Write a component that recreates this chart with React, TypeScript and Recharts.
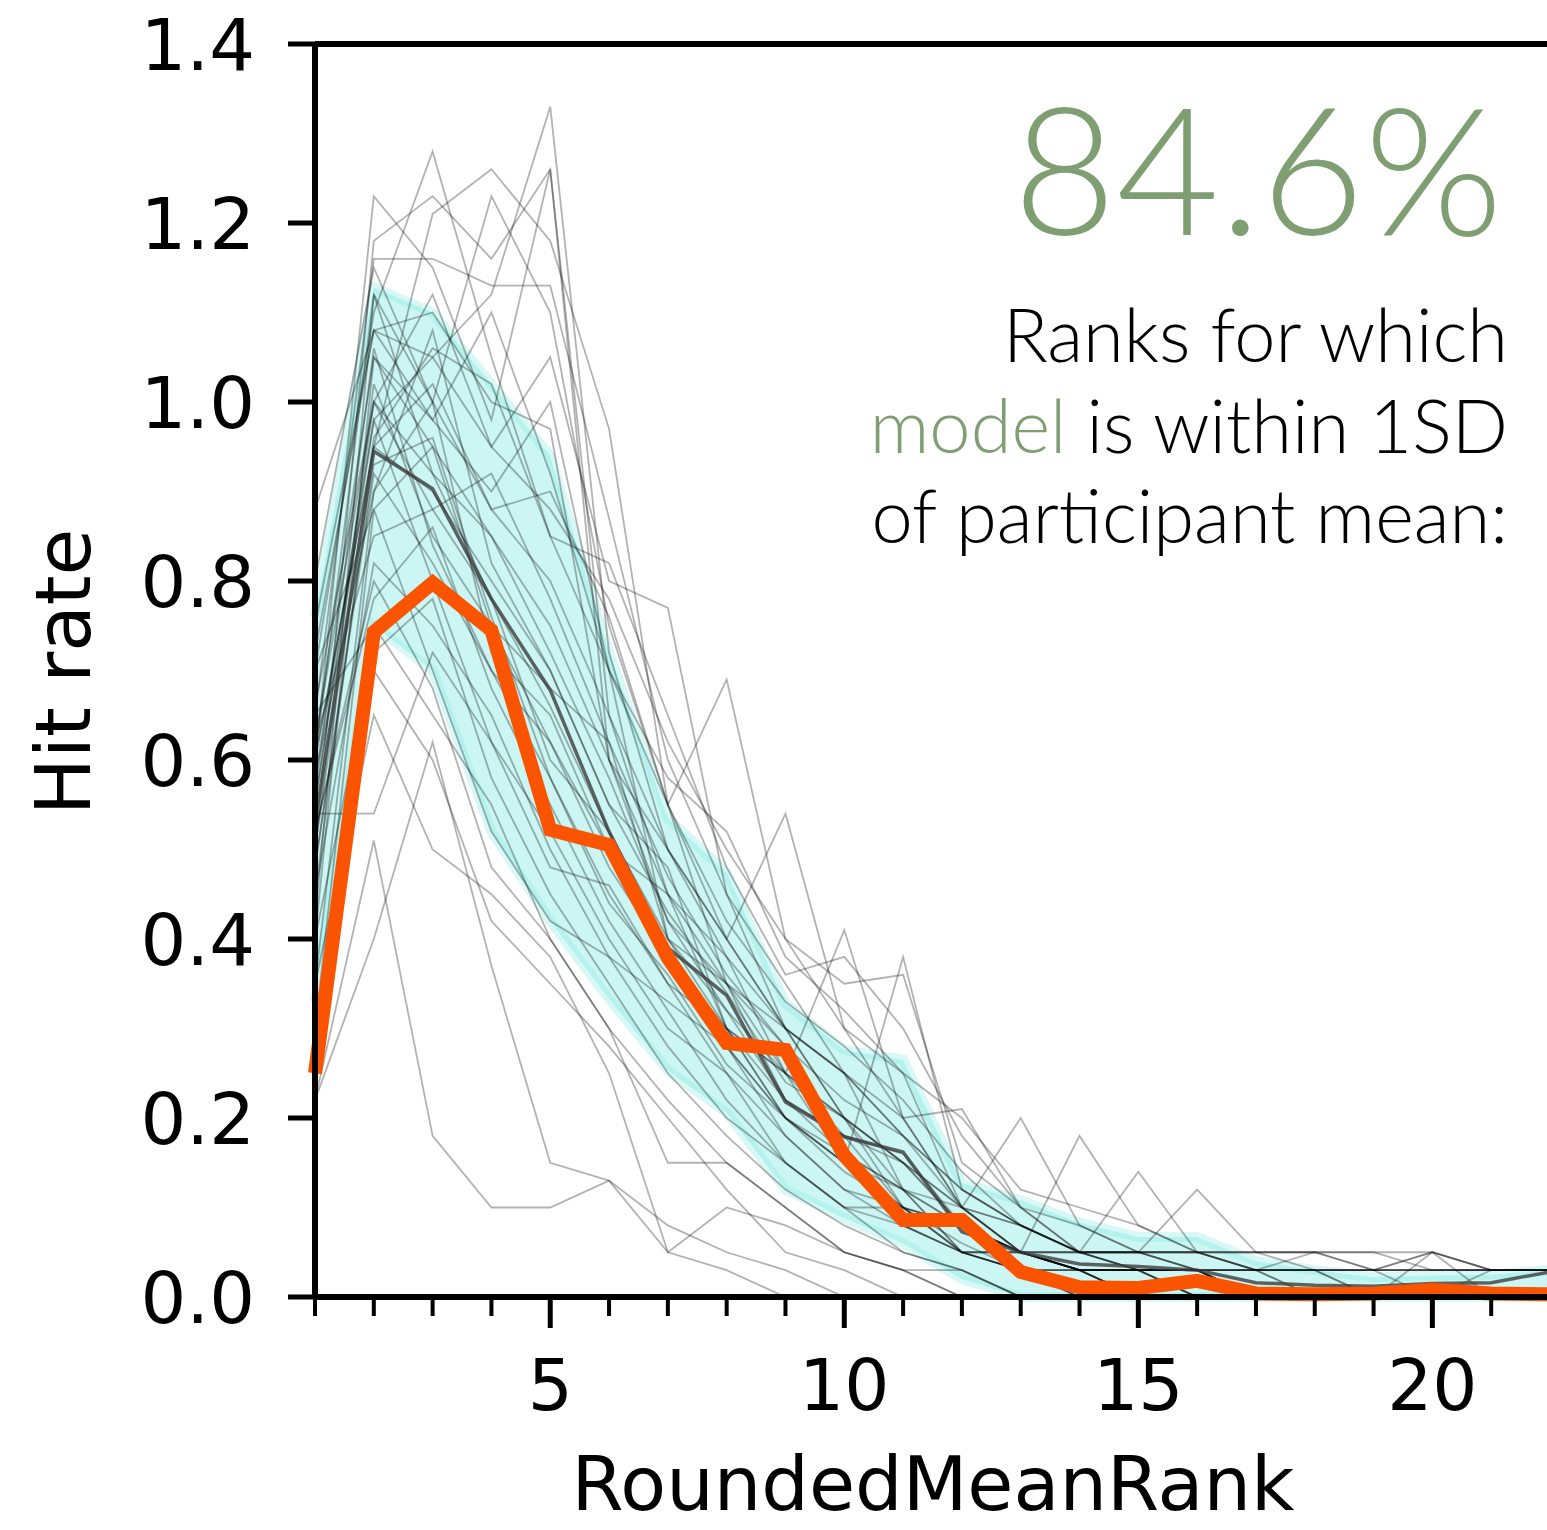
import { ComposedChart, Line, Area, XAxis, YAxis, ReferenceLine } from 'recharts'

// x categories (rounded mean rank)
const ranks = [1, 2, 3, 4, 5, 6, 7, 8, 9, 10, 11, 12, 13, 14, 15, 16, 17, 18, 19, 20, 21, 22]
const yTicks = [0, 0.2, 0.4, 0.6, 0.8, 1.0, 1.2, 1.4]

// model hit rate (orange)
const modelRate = [0.25, 0.743, 0.798, 0.745, 0.522, 0.505, 0.379, 0.284, 0.276, 0.158, 0.086, 0.086, 0.028, 0.011, 0.01, 0.018, 0.004, 0.003, 0.004, 0.008, 0.004, 0.003]

// participant mean (dark line) and +/- 1SD band
const meanRate = [0.53, 0.945, 0.903, 0.78, 0.678, 0.52, 0.39, 0.337, 0.218, 0.179, 0.162, 0.073, 0.05, 0.037, 0.034, 0.03, 0.016, 0.013, 0.012, 0.015, 0.016, 0.028]
const bandHigh = [0.76, 1.128, 1.1, 1.02, 0.94, 0.72, 0.535, 0.474, 0.328, 0.276, 0.265, 0.127, 0.108, 0.083, 0.067, 0.067, 0.04, 0.03, 0.022, 0.024, 0.025, 0.03]
const bandLow = [0.33, 0.75, 0.7, 0.52, 0.42, 0.333, 0.253, 0.206, 0.12, 0.088, 0.06, 0.02, 0, 0, 0, 0, 0, 0, 0, 0, 0, 0]

// individual participants (thin gray)
const participants = [
  [0.55, 0.98, 1.05, 1.12, 1.33, 0.72, 0.5, 0.4, 0.3, 0.2, 0.15, 0.08, 0.05, 0.03, 0.03, 0, 0, 0, 0, 0, 0, 0],
  [0.6, 1.23, 1.15, 0.98, 1.26, 0.65, 0.45, 0.35, 0.22, 0.18, 0.1, 0.05, 0.03, 0.03, 0, 0, 0, 0, 0, 0, 0, 0],
  [0.7, 1.1, 1.28, 1.05, 0.85, 0.7, 0.4, 0.3, 0.25, 0.15, 0.1, 0.08, 0.05, 0.03, 0.03, 0.03, 0, 0, 0, 0, 0, 0],
  [0.5, 1.18, 1.23, 1.16, 1.26, 0.6, 0.42, 0.35, 0.25, 0.2, 0.12, 0.05, 0.03, 0, 0, 0, 0, 0, 0, 0, 0, 0],
  [0.45, 0.95, 1.21, 1.26, 1.18, 0.97, 0.55, 0.4, 0.3, 0.2, 0.1, 0.08, 0.05, 0.03, 0.03, 0, 0, 0, 0, 0, 0, 0],
  [0.65, 1.16, 1.16, 1.13, 1.13, 0.87, 0.6, 0.45, 0.3, 0.25, 0.18, 0.1, 0.05, 0.05, 0.03, 0.03, 0, 0, 0, 0, 0, 0],
  [0.8, 1.15, 1.0, 1.23, 1.1, 0.75, 0.55, 0.35, 0.28, 0.15, 0.08, 0.05, 0.03, 0, 0, 0, 0, 0, 0, 0, 0, 0],
  [0.88, 1.08, 1.05, 0.95, 1.05, 0.8, 0.77, 0.45, 0.35, 0.25, 0.12, 0.08, 0.05, 0.03, 0.03, 0.03, 0, 0, 0, 0, 0, 0],
  [0.4, 1.05, 0.98, 0.9, 1.0, 0.7, 0.55, 0.69, 0.4, 0.3, 0.2, 0.1, 0.05, 0.03, 0, 0, 0, 0, 0, 0, 0, 0],
  [0.75, 1.08, 1.1, 1.0, 0.97, 0.6, 0.5, 0.4, 0.54, 0.3, 0.25, 0.1, 0.08, 0.05, 0.05, 0.05, 0.03, 0.03, 0, 0, 0, 0],
  [0.55, 1.0, 0.92, 0.85, 0.75, 0.6, 0.45, 0.38, 0.25, 0.41, 0.2, 0.1, 0.05, 0.03, 0.03, 0, 0, 0, 0, 0, 0, 0],
  [0.6, 0.95, 0.9, 0.8, 0.7, 0.55, 0.48, 0.3, 0.2, 0.15, 0.38, 0.12, 0.08, 0.05, 0.03, 0.03, 0, 0, 0, 0, 0, 0],
  [0.5, 1.02, 0.85, 0.75, 0.68, 0.62, 0.4, 0.35, 0.3, 0.25, 0.2, 0.21, 0.1, 0.05, 0.05, 0.12, 0.05, 0.05, 0.03, 0.05, 0.03, 0.03],
  [0.35, 0.9, 1.0, 0.72, 0.65, 0.5, 0.45, 0.3, 0.25, 0.2, 0.15, 0.1, 0.2, 0.08, 0.05, 0.05, 0.05, 0.05, 0.05, 0.03, 0.03, 0.03],
  [0.62, 0.85, 0.88, 0.78, 0.6, 0.52, 0.4, 0.32, 0.22, 0.18, 0.15, 0.08, 0.05, 0.18, 0.08, 0.05, 0.03, 0.03, 0, 0, 0, 0],
  [0.48, 0.92, 0.82, 0.7, 0.58, 0.45, 0.35, 0.3, 0.2, 0.15, 0.12, 0.1, 0.05, 0.05, 0.14, 0.05, 0.03, 0, 0, 0.05, 0, 0],
  [0.7, 0.88, 0.95, 0.75, 0.62, 0.48, 0.38, 0.28, 0.18, 0.12, 0.1, 0.05, 0.05, 0.03, 0.03, 0.03, 0.03, 0.05, 0.03, 0.03, 0.03, 0.03],
  [0.52, 0.78, 0.86, 0.68, 0.55, 0.42, 0.32, 0.22, 0.15, 0.1, 0.08, 0.05, 0.03, 0.03, 0, 0, 0, 0, 0, 0, 0, 0],
  [0.58, 0.98, 0.8, 0.62, 0.52, 0.4, 0.3, 0.25, 0.18, 0.12, 0.08, 0.05, 0.03, 0, 0, 0, 0, 0, 0, 0, 0, 0],
  [0.45, 0.82, 0.75, 0.65, 0.5, 0.38, 0.33, 0.28, 0.2, 0.15, 0.1, 0.08, 0.05, 0.05, 0.03, 0.03, 0, 0, 0, 0, 0, 0],
  [0.54, 0.54, 0.72, 0.62, 0.48, 0.46, 0.35, 0.25, 0.15, 0.1, 0.05, 0.03, 0, 0, 0, 0, 0, 0, 0, 0, 0, 0],
  [0.4, 0.72, 0.78, 0.58, 0.45, 0.35, 0.25, 0.18, 0.12, 0.08, 0.05, 0.03, 0, 0, 0, 0, 0, 0, 0, 0, 0, 0],
  [0.3, 0.88, 0.7, 0.52, 0.42, 0.38, 0.28, 0.2, 0.15, 0.1, 0.1, 0.05, 0.05, 0.03, 0, 0, 0, 0, 0, 0, 0, 0],
  [0.65, 0.75, 0.65, 0.55, 0.4, 0.3, 0.22, 0.15, 0.1, 0.05, 0.03, 0, 0, 0, 0, 0, 0, 0, 0, 0, 0, 0],
  [0.22, 0.51, 0.18, 0.1, 0.1, 0.13, 0.05, 0.03, 0, 0, 0, 0, 0, 0, 0, 0, 0, 0, 0, 0, 0, 0],
  [0.22, 0.4, 0.62, 0.37, 0.15, 0.13, 0.08, 0.05, 0.03, 0, 0, 0, 0, 0, 0, 0, 0, 0, 0, 0, 0, 0],
  [0.35, 0.65, 0.5, 0.45, 0.38, 0.25, 0.05, 0.1, 0.08, 0.05, 0.03, 0, 0, 0, 0, 0, 0, 0, 0, 0, 0, 0],
  [0.3, 0.7, 0.6, 0.42, 0.35, 0.28, 0.2, 0.12, 0.05, 0.03, 0, 0, 0, 0, 0, 0, 0, 0, 0, 0, 0, 0],
  [0.52, 0.8, 0.68, 0.48, 0.4, 0.3, 0.15, 0.15, 0.1, 0.05, 0.03, 0.03, 0, 0, 0, 0, 0, 0, 0, 0, 0, 0],
  [0.6, 0.95, 1.02, 0.88, 0.8, 0.65, 0.5, 0.38, 0.3, 0.25, 0.18, 0.12, 0.08, 0.05, 0.05, 0.03, 0.03, 0.03, 0.03, 0.03, 0.03, 0.03],
  [0.62, 1.05, 0.95, 0.85, 0.72, 0.58, 0.42, 0.32, 0.25, 0.18, 0.16, 0.08, 0.05, 0.03, 0.03, 0, 0, 0, 0, 0, 0, 0],
  [0.42, 1.12, 0.92, 0.78, 0.66, 0.52, 0.38, 0.3, 0.22, 0.16, 0.12, 0.05, 0.05, 0.03, 0.03, 0.03, 0, 0, 0, 0, 0, 0],
  [0.58, 0.9, 1.08, 0.82, 0.7, 0.55, 0.43, 0.34, 0.24, 0.2, 0.15, 0.1, 0.08, 0.05, 0.03, 0.03, 0, 0, 0, 0, 0, 0],
  [0.66, 1.0, 0.88, 0.92, 0.78, 0.62, 0.47, 0.36, 0.28, 0.22, 0.18, 0.12, 0.08, 0.05, 0.05, 0.03, 0.03, 0, 0, 0, 0, 0],
  [0.48, 0.93, 0.96, 0.76, 0.58, 0.44, 0.36, 0.26, 0.2, 0.14, 0.1, 0.06, 0.03, 0.03, 0, 0, 0, 0, 0, 0, 0, 0],
  [0.56, 1.06, 0.84, 0.7, 0.62, 0.5, 0.38, 0.28, 0.2, 0.16, 0.12, 0.08, 0.05, 0.03, 0.03, 0.03, 0.03, 0.03, 0.03, 0, 0.03, 0.03],
  [0.62, 1.0, 1.12, 0.95, 0.88, 0.78, 0.62, 0.5, 0.4, 0.35, 0.36, 0.15, 0.1, 0.05, 0.05, 0.05, 0.03, 0.03, 0.03, 0.03, 0.03, 0.03],
  [0.72, 1.08, 0.98, 1.1, 0.92, 0.7, 0.58, 0.52, 0.38, 0.32, 0.25, 0.2, 0.12, 0.1, 0.08, 0.05, 0.05, 0.05, 0.05, 0.05, 0.03, 0.03],
  [0.5, 0.96, 1.06, 1.02, 0.85, 0.82, 0.65, 0.48, 0.36, 0.38, 0.3, 0.18, 0.1, 0.08, 0.05, 0.05, 0.05, 0.03, 0.03, 0.05, 0.03, 0.03],
  [0.6, 1.12, 1.0, 0.88, 0.9, 0.76, 0.55, 0.42, 0.33, 0.28, 0.22, 0.14, 0.08, 0.05, 0.05, 0.03, 0.03, 0.03, 0.03, 0.03, 0.03, 0.03],
]

const chartData = ranks.map((rank, i) => {
  const row: Record<string, any> = {
    rank,
    model: modelRate[i],
    mean: meanRate[i],
    band: [bandLow[i], bandHigh[i]],
  }
  participants.forEach((p, j) => {
    row[`p${j}`] = p[i]
  })
  return row
})

const tickFont = 'DejaVu Sans, sans-serif'
const noteFont = 'Lato, Liberation Sans, sans-serif'
const green = '#7f9e72'

// axis rows are 1px thick, so tick x/y sit on the spines
const XTick = (props: any) => {
  const { x, y, payload } = props
  const major = payload.value % 5 === 0
  return (
    <g>
      <line x1={x} x2={x} y1={y} y2={y + (major ? 31 : 19)} stroke="#000" strokeWidth={major ? 5 : 4} />
      {major && (
        <text x={x} y={y + 113} textAnchor="middle" fontSize={71} fontFamily={tickFont} fill="#000">
          {payload.value}
        </text>
      )}
    </g>
  )
}

const YTick = (props: any) => {
  const { x, y, payload } = props
  return (
    <g>
      <line x1={x - 27} x2={x} y1={y} y2={y} stroke="#000" strokeWidth={5} />
      <text x={x - 60} y={y + 26} textAnchor="end" fontSize={72} fontFamily={tickFont} fill="#000">
        {payload.value.toFixed(1)}
      </text>
    </g>
  )
}

export default function App() {
  return (
    <div style={{ position: 'absolute', left: 0, top: 0, width: 1547, height: 1530, overflow: 'hidden', background: '#fff' }}>
      <ComposedChart
        width={1552}
        height={1530}
        data={chartData}
        margin={{ top: 44, right: 2, bottom: 232, left: 314 }}
      >
        <XAxis
          dataKey="rank"
          type="number"
          domain={[1, 22]}
          ticks={ranks}
          interval={0}
          height={1}
          tickSize={0}
          tickMargin={0}
          tick={<XTick />}
          axisLine={false}
        />
        <YAxis
          type="number"
          domain={[0, 1.4]}
          ticks={yTicks}
          interval={0}
          width={1}
          tickSize={0}
          tickMargin={0}
          tick={<YTick />}
          axisLine={false}
        />
        {participants.map((_, j) => (
          <Line
            key={j}
            dataKey={`p${j}`}
            type="linear"
            stroke="#000"
            strokeOpacity={0.3}
            strokeWidth={1.8}
            dot={false}
            activeDot={false}
            isAnimationActive={false}
          />
        ))}
        <Area
          dataKey="band"
          type="linear"
          fill="#7de8e0"
          fillOpacity={0.4}
          stroke="#7de8e0"
          strokeOpacity={0.3}
          strokeWidth={10}
          isAnimationActive={false}
        />
        <Line dataKey="mean" type="linear" stroke="#3c3c3c" strokeOpacity={0.8} strokeWidth={3.5} dot={false} activeDot={false} isAnimationActive={false} />
        <Line dataKey="model" type="linear" stroke="#fa5400" strokeWidth={14} strokeLinejoin="miter" dot={false} activeDot={false} isAnimationActive={false} />
        <ReferenceLine y={1.4} stroke="#000" strokeWidth={6} />
        <ReferenceLine y={0} stroke="#000" strokeWidth={6} />
        <ReferenceLine x={1} stroke="#000" strokeWidth={6} />
      </ComposedChart>
      <svg width={1547} height={1530} style={{ position: 'absolute', left: 0, top: 0, pointerEvents: 'none' }}>
        <text x={90} y={672} transform="rotate(-90 90 672)" textAnchor="middle" fontSize={76} fontFamily={tickFont} fill="#000">
          Hit rate
        </text>
        <text x={933} y={1510} textAnchor="middle" fontSize={75} fontFamily={tickFont} fill="#000">
          RoundedMeanRank
        </text>
        <text x={1503} y={235} textAnchor="end" fontSize={178} fontWeight={300} fontFamily={noteFont} fill={green}>
          84.6%
        </text>
        <text x={1508} y={362} textAnchor="end" fontSize={74} fontWeight={300} fontFamily={noteFont} fill="#000">
          Ranks for which
        </text>
        <text x={1508} y={453} textAnchor="end" fontSize={74} fontWeight={300} fontFamily={noteFont} fill="#000">
          <tspan fill={green}>model</tspan> is within 1SD
        </text>
        <text x={1508} y={543} textAnchor="end" fontSize={74} fontWeight={300} fontFamily={noteFont} fill="#000">
          of participant mean:
        </text>
      </svg>
    </div>
  )
}
